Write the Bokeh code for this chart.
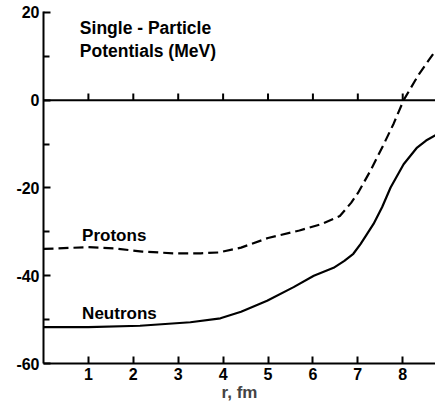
from bokeh.plotting import figure
from bokeh.models import FixedTicker, Range1d, Span
from bokeh.core.properties import value
from bokeh.embed import file_html
from bokeh.resources import INLINE

# Data
r_protons = [0, 1.0, 1.6, 2.2, 2.9, 3.5, 3.9, 4.4, 5.0, 5.7, 6.2, 6.6, 6.85, 7.0, 7.28, 7.58, 7.8, 8.02, 8.36, 8.73]
v_protons = [-33.9, -33.5, -33.8, -34.5, -34.9, -34.9, -34.7, -33.6, -31.4, -29.7, -28.2, -26.4, -23.4, -21.2, -16.1, -10.0, -5.3, 0.0, 5.9, 11.3]

r_neutrons = [0, 1.0, 2.15, 3.27, 3.94, 4.4, 4.98, 5.57, 6.02, 6.46, 6.7, 6.9, 7.06, 7.2, 7.35, 7.54, 7.73, 8.02, 8.32, 8.52, 8.73]
v_neutrons = [-51.7, -51.7, -51.4, -50.6, -49.7, -48.2, -45.7, -42.6, -40.0, -38.2, -36.6, -35.0, -32.8, -30.6, -28.2, -24.4, -19.9, -14.6, -10.8, -9.2, -8.0]

x_ticks = [1, 2, 3, 4, 5, 6, 7, 8]
y_ticks = [-60, -40, -20, 0, 20]
y_minor = [-50, -30, -10, 10]
y_labels = {-60: "-60", -40: "-40", -20: "-20", 0: "0", 20: "20"}

title_lines = ["Single - Particle", "Potentials (MeV)"]
series_names = ["Protons", "Neutrons"]
x_title = "r, fm"

FONT = "Liberation Sans"

p = figure(width=435, height=404, output_backend="svg", toolbar_location=None,
           x_range=Range1d(0, 8.73), y_range=Range1d(-60, 20.2),
           min_border_left=43, min_border_right=0, min_border_top=11, min_border_bottom=41)
p.outline_line_color = None
p.xgrid.visible = False
p.ygrid.visible = False
p.background_fill_color = "white"
p.border_fill_color = "white"

# axes
for ax in (p.xaxis[0], p.yaxis[0]):
    ax.axis_line_width = 2
    ax.axis_line_color = "black"
    ax.major_tick_in = 7
    ax.major_tick_out = 0
    ax.major_tick_line_width = 2
    ax.minor_tick_in = 6
    ax.minor_tick_out = 0
    ax.minor_tick_line_width = 2
    ax.major_label_text_font = FONT
    ax.major_label_text_font_style = "bold"
    ax.major_label_text_font_size = "16px"
    ax.major_label_text_color = "black"

p.xaxis.ticker = FixedTicker(ticks=x_ticks)
p.xaxis.minor_tick_line_color = None
p.xaxis.major_label_standoff = 4
p.xaxis.axis_label = x_title
p.xaxis.axis_label_text_font = FONT
p.xaxis.axis_label_text_font_style = "bold"
p.xaxis.axis_label_text_font_size = "17px"
p.xaxis.axis_label_standoff = 0

p.yaxis.ticker = FixedTicker(ticks=y_ticks, minor_ticks=y_minor)
p.yaxis.major_label_overrides = y_labels
p.yaxis.major_label_standoff = 4

# zero line with its own ticks
p.add_layout(Span(location=0, dimension="width", line_color="black", line_width=2))
p.segment(x0=x_ticks, x1=x_ticks, y0=[0] * len(x_ticks), y1=[1.5] * len(x_ticks),
          line_color="black", line_width=2)

# curves
p.line(r_protons, v_protons, line_color="black", line_width=2.2, line_dash="10 5",
       line_join="round")
p.line(r_neutrons, v_neutrons, line_color="black", line_width=2.2, line_join="round")

# texts
p.text(x=[0.81, 0.81], y=[16.5, 11.2], text=title_lines,
       text_font=value(FONT), text_font_style="bold", text_font_size="17.5px",
       text_baseline="middle", text_align="left", text_color="black")
p.text(x=[0.86, 0.86], y=[-30.9, -48.6], text=series_names,
       text_font=value(FONT), text_font_style="bold", text_font_size="17px",
       text_baseline="middle", text_align="left", text_color="black")

open("out.html", "w").write(file_html(p, INLINE))
